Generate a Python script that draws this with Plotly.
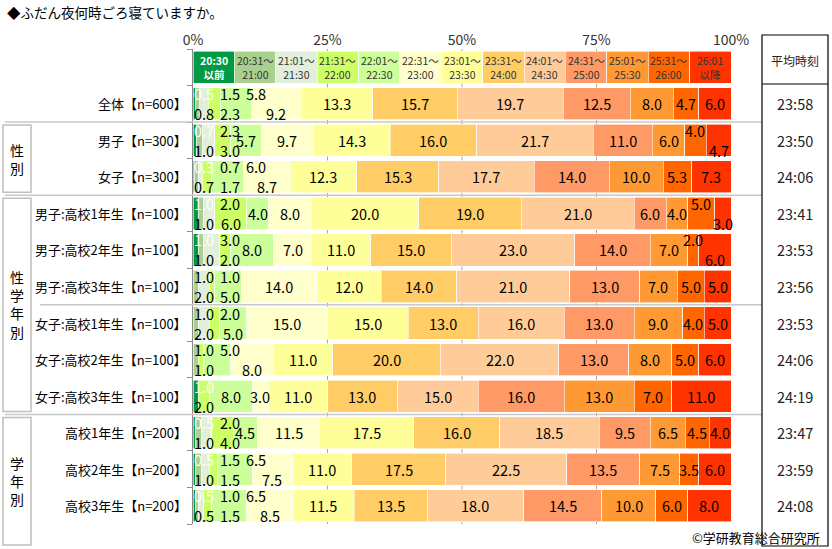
import plotly.graph_objects as go

# 時間帯（凡例ヘッダー）
time_bins = ["20:30<br>以前", "20:31～<br>21:00", "21:01～<br>21:30", "21:31～<br>22:00",
             "22:01～<br>22:30", "22:31～<br>23:00", "23:01～<br>23:30", "23:31～<br>24:00",
             "24:01～<br>24:30", "24:31～<br>25:00", "25:01～<br>25:30", "25:31～<br>26:00",
             "26:01<br>以降"]

categories = ["全体【n=600】", "男子【n=300】", "女子【n=300】",
              "男子:高校1年生【n=100】", "男子:高校2年生【n=100】", "男子:高校3年生【n=100】",
              "女子:高校1年生【n=100】", "女子:高校2年生【n=100】", "女子:高校3年生【n=100】",
              "高校1年生【n=200】", "高校2年生【n=200】", "高校3年生【n=200】"]

# 各属性の割合（%）
zentai = [0.5, 0.8, 1.5, 2.3, 5.8, 9.2, 13.3, 15.7, 19.7, 12.5, 8.0, 4.7, 6.0]
danshi = [0.7, 1.0, 2.3, 3.0, 5.7, 9.7, 14.3, 16.0, 21.7, 11.0, 6.0, 4.0, 4.7]
joshi = [0.3, 0.7, 0.7, 1.7, 6.0, 8.7, 12.3, 15.3, 17.7, 14.0, 10.0, 5.3, 7.3]
danshi_1 = [1.0, 1.0, 2.0, 6.0, 4.0, 8.0, 20.0, 19.0, 21.0, 6.0, 4.0, 5.0, 3.0]
danshi_2 = [1.0, 1.0, 3.0, 2.0, 8.0, 7.0, 11.0, 15.0, 23.0, 14.0, 7.0, 2.0, 6.0]
danshi_3 = [0.0, 1.0, 2.0, 1.0, 5.0, 14.0, 12.0, 14.0, 21.0, 13.0, 7.0, 5.0, 5.0]
joshi_1 = [0.0, 1.0, 2.0, 2.0, 5.0, 15.0, 15.0, 13.0, 16.0, 13.0, 9.0, 4.0, 5.0]
joshi_2 = [0.0, 1.0, 0.0, 1.0, 5.0, 8.0, 11.0, 20.0, 22.0, 13.0, 8.0, 5.0, 6.0]
joshi_3 = [1.0, 0.0, 0.0, 2.0, 8.0, 3.0, 11.0, 13.0, 15.0, 16.0, 13.0, 7.0, 11.0]
kou_1 = [0.5, 1.0, 2.0, 4.0, 4.5, 11.5, 17.5, 16.0, 18.5, 9.5, 6.5, 4.5, 4.0]
kou_2 = [0.5, 1.0, 1.5, 1.5, 6.5, 7.5, 11.0, 17.5, 22.5, 13.5, 7.5, 3.5, 6.0]
kou_3 = [0.5, 0.5, 1.0, 1.5, 6.5, 8.5, 11.5, 13.5, 18.0, 14.5, 10.0, 6.0, 8.0]

rows = [zentai, danshi, joshi, danshi_1, danshi_2, danshi_3,
        joshi_1, joshi_2, joshi_3, kou_1, kou_2, kou_3]

avg_times = ["23:58", "23:50", "24:06", "23:41", "23:53", "23:56",
             "23:53", "24:06", "24:19", "23:47", "23:59", "24:08"]

# ラベル位置 T=上 B=下 C=中央 -=なし
label_pos = ["TBTBTBCCCCCCC", "TBTBCCCCCCCTB", "TBTBTBCCCCCCC",
             "TBTBCCCCCCCTB", "TBTBCCCCCCCTB", "-TBTBCCCCCCCC",
             "-TBTBCCCCCCCC", "-T-BTBCCCCCCC", "T--BCCCCCCCCC",
             "TBTBCCCCCCCCC", "TBTBTBCCCCCCC", "TBTBTBCCCCCCC"]

colors = ["#009a44", "#a9d08e", "#e2efda", "#ccff66", "#ccff99", "#ffffcc", "#ffff99",
          "#ffcc66", "#ffcc99", "#ff9966", "#ff9933", "#ff6600", "#ff3300"]

FONT = "Noto Sans CJK JP"
W, H = 832, 549
L, R, T, B = 193, 101, 49, 25
PW, PH = W - L - R, H - T - B
n = len(time_bins)
nrow = len(rows) + 1
pitch = PH / nrow


def px(x):
    return (x - L) / PW


def py(y):
    return (H - B - y) / PH


def row_edge(k):
    # k 行目の下側の境界（ピクセル）
    return T + (k + 1) * pitch


fig = go.Figure()

for j in range(n):
    fig.add_trace(go.Bar(
        y=list(range(nrow)),
        x=[100 / n] + [r[j] for r in rows],
        orientation='h',
        marker=dict(color=colors[j], line=dict(color='white', width=0.6)),
        showlegend=False,
        hoverinfo='skip'
    ))

ann = []


def label(x, y, text, xref='paper', yref='paper', size=13, color='black', xanchor='center', **kw):
    ann.append(dict(x=x, y=y, xref=xref, yref=yref, text=text, showarrow=False,
                    xanchor=xanchor, yanchor='middle',
                    font=dict(size=size, color=color, family=FONT), **kw))


# ヘッダー
for j, t in enumerate(time_bins):
    first = j == 0
    label((j + 0.5) * 100 / n, 0, ('<b>%s</b>' % t) if first else t, xref='x', yref='y',
          size=10.5, color='white' if first else '#333')

# データラベル
fs = 14.5
gap = 6
scale = PW / 100
for i, r in enumerate(rows):
    cum = 0
    last = {'T': L - gap + 0.5, 'B': L - gap + 0.5}
    for j, v in enumerate(r):
        pos = label_pos[i][j]
        if v > 0 and pos != '-':
            txt = '%.1f' % v
            w = sum(0.27 * fs if c == '.' else 0.56 * fs for c in txt)
            cx = L + (cum + v / 2) * scale
            ys = 0
            if pos in 'TB':
                left = max(cx - w / 2, last[pos] + gap)
                cx = left + w / 2
                last[pos] = left + w
                ys = 10 if pos == 'T' else -10
            label((cx - L) / scale, i + 1, txt, xref='x', yref='y', size=fs,
                  color='white' if j == 0 else 'black', yshift=ys)
        cum += v

# 行ラベル・平均時刻
for i, c in enumerate(categories):
    label(px(189), i + 1, c, yref='y', xanchor='right', size=13)
    label(px(795), i + 1, avg_times[i], yref='y', size=14.5, color='#222')

label(px(795), py(60), '平均時刻', size=12, color='#222')

# グループ名
groups = [("性<br>別", 1, 3), ("性<br>学<br>年<br>別", 3, 9), ("学<br>年<br>別", 9, 12)]
shapes = []
for name, a, b in groups:
    top = row_edge(a) + 3
    bottom = row_edge(b) - 3 if b < 12 else 545
    shapes.append(dict(type='rect', xref='paper', yref='paper', x0=px(3), x1=px(31),
                       y0=py(top), y1=py(bottom), line=dict(color='#bfbfbf', width=1.5)))
    label(px(17), py((top + bottom) / 2), name, size=14)

# 区切り線
for k, x0 in [(1, 5), (3, 5), (6, 40), (9, 5)]:
    yy = py(row_edge(k))
    shapes.append(dict(type='line', xref='paper', yref='paper', x0=px(x0), x1=px(762), y0=yy, y1=yy,
                       line=dict(color='#c8c8c8', width=1.5)))

# 目盛り線
for g in [25, 50, 75]:
    shapes.append(dict(type='line', xref='x', yref='paper', x0=g, x1=g, y0=0, y1=1,
                       layer='below', line=dict(color='#a6a6a6', width=1)))

# 平均時刻の枠
shapes.append(dict(type='rect', xref='paper', yref='paper', x0=px(762), x1=px(828),
                   y0=py(35), y1=py(546), line=dict(color='black', width=1.2)))
shapes.append(dict(type='line', xref='paper', yref='paper', x0=px(762), x1=px(828),
                   y0=py(84), y1=py(84), line=dict(color='black', width=1.2)))

# タイトル・出典
label(px(5), py(12), '◆ふだん夜何時ごろ寝ていますか。', xanchor='left', size=13.5)
label(px(822), py(537), '©学研教育総合研究所', xanchor='right', size=13)

ticks = [0, 25, 50, 75, 100]
fig.update_layout(
    width=W, height=H,
    margin=dict(l=L, r=R, t=T, b=B),
    barmode='stack',
    bargap=0.12,
    plot_bgcolor='white',
    paper_bgcolor='white',
    font=dict(family=FONT),
    annotations=ann,
    shapes=shapes,
    xaxis=dict(range=[0, 100], side='top', tickvals=ticks, ticktext=['%d%%' % t for t in ticks],
               showgrid=False, zeroline=False, showline=False, fixedrange=True,
               tickfont=dict(size=14, color='#333')),
    yaxis=dict(range=[nrow - 0.5, -0.5], tickvals=[k + 0.5 for k in range(-1, nrow)],
               showticklabels=False, ticks='outside', ticklen=5, tickcolor='#898989',
               showline=True, linecolor='#898989', linewidth=1, showgrid=False, zeroline=False,
               fixedrange=True)
)

fig.write_html("out.html", config={'displayModeBar': False},
               post_script="document.body.style.margin='0';")
